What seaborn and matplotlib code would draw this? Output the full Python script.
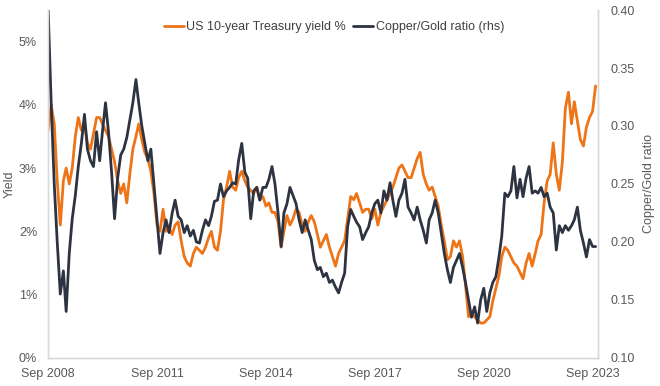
import pandas as pd
import seaborn as sns
import matplotlib.pyplot as plt
import matplotlib.dates as mdates
from matplotlib.ticker import FuncFormatter

# monthly readings, Sep 2008 onwards
yield_pct = [
    3.6, 4.0, 3.7, 2.8, 2.1, 2.8, 3.0, 2.75, 3.0, 3.5,
    3.8, 3.6, 3.7, 3.4, 3.3, 3.55, 3.8, 3.8, 3.7, 3.6,
    3.5, 3.3, 3.1, 2.8, 2.6, 2.75, 2.45, 2.9, 3.3, 3.5,
    3.7, 3.45, 3.25, 3.15, 2.95, 2.6, 2.1, 2.0, 2.35, 2.0,
    2.05, 1.95, 2.1, 2.15, 1.85, 1.6, 1.5, 1.45, 1.65, 1.75,
    1.7, 1.65, 1.75, 1.9, 2.0, 1.75, 1.7, 2.0, 2.5, 2.7,
    2.95, 2.7, 2.65, 2.85, 2.95, 2.8, 2.7, 2.65, 2.6, 2.7,
    2.5, 2.55, 2.4, 2.45, 2.3, 2.3, 2.15, 1.75, 2.0, 2.25,
    2.1, 2.2, 2.35, 2.3, 2.1, 2.0, 2.15, 2.25, 2.15, 1.95,
    1.75, 1.85, 1.95, 1.75, 1.6, 1.45, 1.65, 1.75, 1.85, 2.2,
    2.55, 2.5, 2.6, 2.45, 2.3, 2.35, 2.35, 2.2, 2.35, 2.1,
    2.3, 2.4, 2.5, 2.6, 2.7, 2.85, 3.0, 3.05, 2.95, 2.85,
    2.85, 3.0, 3.15, 3.25, 2.9, 2.75, 2.65, 2.7, 2.55, 2.4,
    2.1, 1.85, 1.55, 1.6, 1.85, 1.75, 1.85, 1.6, 1.15, 0.65,
    0.7, 0.65, 0.6, 0.55, 0.55, 0.6, 0.65, 0.9, 1.1, 1.3,
    1.6, 1.75, 1.7, 1.6, 1.5, 1.45, 1.35, 1.25, 1.5, 1.65,
    1.45, 1.65, 1.85, 1.95, 2.45, 2.8, 2.9, 3.4, 2.9, 2.65,
    3.1, 3.95, 4.2, 3.7, 4.05, 3.75, 3.45, 3.35, 3.65, 3.8,
    3.9, 4.3,
]

copper_gold = [
    0.40, 0.32, 0.25, 0.20, 0.155, 0.175, 0.14, 0.19, 0.22, 0.24,
    0.265, 0.285, 0.31, 0.28, 0.27, 0.265, 0.295, 0.27, 0.295, 0.32,
    0.295, 0.26, 0.22, 0.255, 0.275, 0.28, 0.29, 0.305, 0.32, 0.34,
    0.32, 0.30, 0.285, 0.27, 0.28, 0.25, 0.22, 0.19, 0.208, 0.219,
    0.208, 0.225, 0.236, 0.222, 0.219, 0.208, 0.214, 0.205, 0.21, 0.20,
    0.199, 0.21, 0.219, 0.214, 0.222, 0.235, 0.236, 0.25, 0.239, 0.244,
    0.247, 0.251, 0.25, 0.271, 0.285, 0.26, 0.255, 0.22, 0.244, 0.247,
    0.236, 0.247, 0.247, 0.254, 0.265, 0.25, 0.225, 0.196, 0.225, 0.233,
    0.247, 0.24, 0.233, 0.219, 0.208, 0.219, 0.21, 0.202, 0.184, 0.176,
    0.178, 0.17, 0.173, 0.165, 0.167, 0.161, 0.156, 0.165, 0.173, 0.213,
    0.228, 0.222, 0.217, 0.213, 0.202, 0.208, 0.213, 0.225, 0.233, 0.236,
    0.225, 0.244, 0.236, 0.251, 0.236, 0.222, 0.236, 0.242, 0.254, 0.23,
    0.225, 0.219, 0.23, 0.219, 0.21, 0.199, 0.219, 0.225, 0.236, 0.225,
    0.208, 0.19, 0.176, 0.165, 0.178, 0.184, 0.19, 0.178, 0.165, 0.15,
    0.135, 0.144, 0.13, 0.15, 0.16, 0.14, 0.156, 0.165, 0.17, 0.187,
    0.205, 0.242, 0.239, 0.244, 0.265, 0.238, 0.254, 0.239, 0.255, 0.265,
    0.242, 0.244, 0.242, 0.247, 0.239, 0.242, 0.23, 0.225, 0.193, 0.214,
    0.208, 0.214, 0.21, 0.214, 0.219, 0.23, 0.21, 0.199, 0.187, 0.202,
    0.196, 0.196,
]

tick_years = [2008, 2011, 2014, 2017, 2020, 2023]

orange = '#EE7418'
navy = '#2E3341'
grey_txt = '#595959'
grey_line = '#D9D9D9'

sns.set_style('white')
plt.rcParams['font.family'] = ['Liberation Sans', 'DejaVu Sans']

months = pd.date_range('2008-09-01', periods=len(yield_pct), freq='MS')
data = pd.DataFrame({'month': months, 'yield': yield_pct, 'ratio': copper_gold})

fig, ax = plt.subplots(figsize=(6.6, 3.86), dpi=100)
fig.subplots_adjust(left=0.073, right=0.906, top=0.974, bottom=0.073)
ax2 = ax.twinx()

sns.lineplot(data, ax=ax, x='month', y='yield', color=orange, lw=2.0,
             label='US 10-year Treasury yield %')
sns.lineplot(data, ax=ax2, x='month', y='ratio', color=navy, lw=2.0,
             label='Copper/Gold ratio (rhs)')

ax.set_ylim(0, 5.5)
ax.set_yticks([0, 1, 2, 3, 4, 5])
ax.yaxis.set_major_formatter(FuncFormatter(lambda v, pos: f'{v:.0f}%'))
ax2.set_ylim(0.10, 0.40)
ax2.set_yticks([0.10, 0.15, 0.20, 0.25, 0.30, 0.35, 0.40])
ax2.yaxis.set_major_formatter(FuncFormatter(lambda v, pos: f'{v:.2f}'))

ax.set_xlim(pd.Timestamp('2008-09-01'), pd.Timestamp('2023-10-25'))
ax.set_xticks([pd.Timestamp(f'{y}-09-01') for y in tick_years])
ax.xaxis.set_major_formatter(mdates.DateFormatter('%b %Y'))

ax.set_xlabel('')
ax.set_ylabel('Yield', fontsize=9, color=grey_txt, labelpad=2)
ax2.set_ylabel('Copper/Gold ratio', fontsize=9, color=grey_txt, labelpad=6)

for a in (ax, ax2):
    a.tick_params(length=0, labelsize=9, labelcolor=grey_txt)
    a.spines['top'].set_visible(False)
    for side in ('left', 'right', 'bottom'):
        a.spines[side].set_color(grey_line)
        a.spines[side].set_linewidth(1)
ax.tick_params(axis='y', pad=8)
ax.tick_params(axis='x', pad=7)
ax2.tick_params(axis='y', pad=9)

# one legend for both axes
handles, labels = ax.get_legend_handles_labels()
handles2, labels2 = ax2.get_legend_handles_labels()
handles.extend(handles2)
labels.extend(labels2)
ax.get_legend().remove()
ax2.get_legend().remove()
leg = fig.legend(handles, labels, loc='center', bbox_to_anchor=(0.506, 0.93),
                 ncol=2, frameon=False, fontsize=9, handlelength=1.6,
                 handletextpad=0.2, columnspacing=0.6)
for t in leg.get_texts():
    t.set_color('#404040')

fig.savefig('out.png', dpi=100)
